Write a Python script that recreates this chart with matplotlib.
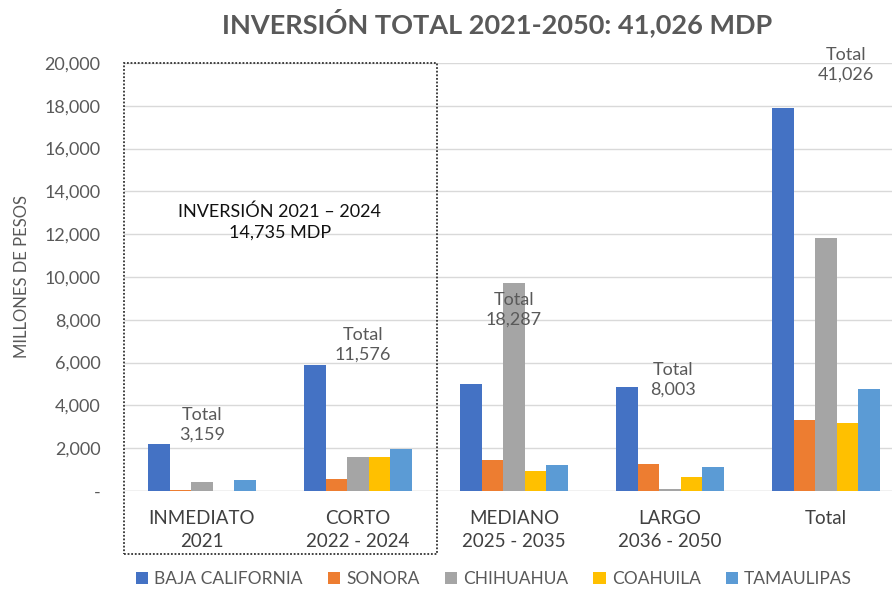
import matplotlib
matplotlib.use("Agg")
import matplotlib.pyplot as plt
from matplotlib.patches import Rectangle
import numpy as np

plt.rcParams['font.family'] = ['Lato', 'DejaVu Sans']

categories = ["INMEDIATO\n2021", "CORTO\n2022 - 2024", "MEDIANO\n2025 - 2035", "LARGO\n2036 - 2050", "Total"]
states = ["BAJA CALIFORNIA", "SONORA", "CHIHUAHUA", "COAHUILA", "TAMAULIPAS"]
baja_california = [2200, 5870, 5000, 4850, 17920]
sonora = [40, 570, 1450, 1280, 3340]
chihuahua = [420, 1580, 9700, 100, 11800]
coahuila = [0, 1600, 935, 650, 3185]
tamaulipas = [500, 1950, 1215, 1120, 4785]
totals = ["3,159", "11,576", "18,287", "8,003", "41,026"]
yticks = [0, 2000, 4000, 6000, 8000, 10000, 12000, 14000, 16000, 18000, 20000]
ytick_labels = ["-", "2,000", "4,000", "6,000", "8,000", "10,000", "12,000", "14,000", "16,000", "18,000", "20,000"]

series = [baja_california, sonora, chihuahua, coahuila, tamaulipas]
colors = ["#4472C4", "#ED7D31", "#A5A5A5", "#FFC000", "#5B9BD5"]

W, H = 892, 591
fig = plt.figure(figsize=(W / 100, H / 100), dpi=100)
ax = fig.add_axes([124 / W, 1 - 491 / H, 1 - 124 / W, (491 - 63) / H])

x = np.arange(len(categories))
bw = 0.1385
for i, (vals, c, name) in enumerate(zip(series, colors, states)):
    ax.bar(x + (i - 2) * bw, vals, width=bw, color=c, label=name, zorder=3)

ax.set_xlim(-0.5, (892 - 202) / 156)
ax.set_ylim(0, 20000)
ax.set_yticks(yticks)
ax.set_yticklabels(ytick_labels, fontsize=13, color="#595959")
ax.set_xticks(x)
ax.set_xticklabels(categories, fontsize=13.5, color="#404040", linespacing=1.4)
ax.tick_params(axis='y', length=0, pad=17)
ax.tick_params(axis='x', length=0, pad=14)
ax.grid(axis='y', color="#D9D9D9", linewidth=1, zorder=0)
ax.axhline(0, color="#D9D9D9", linewidth=1, zorder=1)
for s in ax.spines.values():
    s.set_visible(False)
ax.set_ylabel("MILLONES DE PESOS", fontsize=12, color="#595959")
ax.yaxis.set_label_coords(-(124 - 30) / (W - 124), 0.5)

# total annotations
ann_pos = [(0.0, 3080), (1.03, 6820), (2.0, 8460), (3.02, 5190), (4.13, 19900)]
for (px, py), t in zip(ann_pos, totals):
    ax.text(px, py, "Total\n" + t, ha='center', va='center', fontsize=13,
            color="#595959", linespacing=1.3, zorder=5)

ax.text(0.5, 12570, "INVERSIÓN 2021 – 2024\n14,735 MDP", ha='center', va='center',
        fontsize=13, color="#111111", linespacing=1.4, zorder=5)

# dotted box
rect = Rectangle((124 / W, 1 - 554 / H), (437 - 124) / W, (554 - 63) / H,
                 transform=fig.transFigure, fill=False, edgecolor="#333333",
                 linestyle=(0, (1, 1)), linewidth=1.3)
fig.patches.append(rect)

fig.suptitle("INVERSIÓN TOTAL 2021-2050: 41,026 MDP", x=497 / W, y=1 - 23 / H,
             va='center', fontsize=19.5, fontweight='bold', color="#595959")

fig.legend(loc='center', bbox_to_anchor=(494 / W, 1 - 579 / H), ncol=5, frameon=False,
           fontsize=12.5, handlelength=0.7, handleheight=0.7, handletextpad=0.35,
           columnspacing=1.45, labelcolor="#595959")

fig.savefig("out.png", dpi=100)
